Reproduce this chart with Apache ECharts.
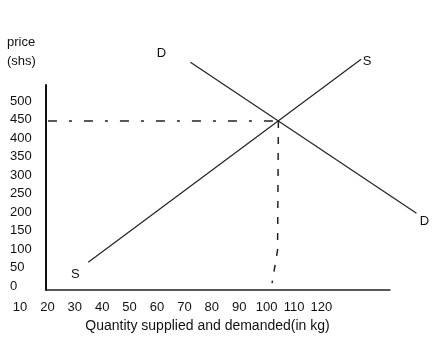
<!DOCTYPE html>
<html>
<head>
<meta charset="utf-8">
<script src="https://cdn.jsdelivr.net/npm/echarts@6/dist/echarts.min.js"></script>
<style>
  html, body { margin: 0; padding: 0; background: #fff; }
  #chart { width: 434px; height: 351px; }
</style>
</head>
<body>
<div id="chart"></div>
<script>
var myChart = echarts.init(document.getElementById('chart'))

// values
var qtyTicks = [10, 20, 30, 40, 50, 60, 70, 80, 90, 100, 110, 120]
var priceTicks = [0, 50, 100, 150, 200, 250, 300, 350, 400, 450, 500]
var supplyQ = [34.9, 134.5]
var supplyP = [64, 612.7]
var demandQ = [72.2, 154.7]
var demandP = [604.6, 196.5]
var priceGuideQ = [20.2, 104.3]
var priceGuideP = [446, 446]
var qtyGuideQ = [104.3, 104, 102]
var qtyGuideP = [446, 97, 8]

var font = 'Liberation Sans, Arial, sans-serif'

function pairs(xs, ys) {
  return xs.map(function(x, i) {
    return [x, ys[i]]
  })
}

// curve data with a letter at each end
function curve(xs, ys, name, offsets) {
  return pairs(xs, ys).map(function(p, i) {
    return {
      value: p,
      label: {
        show: true,
        formatter: name,
        position: 'inside',
        offset: offsets[i],
        color: '#111',
        fontSize: 13,
        fontFamily: font
      }
    }
  })
}

var option = {
  animation: false,
  backgroundColor: '#fff',
  title: {
    text: 'price\n(shs)',
    left: 2,
    top: 28,
    textStyle: {
      color: '#111',
      fontSize: 13,
      fontWeight: 'normal',
      fontFamily: font,
      lineHeight: 19
    }
  },
  grid: [
    // data + tick labels
    { left: 20, right: 2.25, top: 45.5, bottom: 65 },
    // visible axis lines
    { left: 46, right: 44, top: 85, bottom: 61 }
  ],
  xAxis: [
    {
      gridIndex: 0,
      type: 'value',
      min: 10,
      max: 160,
      interval: 10,
      axisLine: { show: false },
      axisTick: { show: false },
      splitLine: { show: false },
      axisLabel: {
        margin: 15,
        color: '#111',
        fontSize: 13,
        fontFamily: font,
        formatter: function(v) {
          return qtyTicks.indexOf(v) >= 0 ? v : ''
        }
      },
      name: 'Quantity supplied and demanded(in kg)',
      nameLocation: 'middle',
      nameGap: 33,
      nameTextStyle: {
        color: '#111',
        fontSize: 14,
        fontFamily: font,
        padding: [0, 36, 0, 0]
      }
    },
    {
      gridIndex: 1,
      type: 'value',
      min: 0,
      max: 1,
      axisLine: { show: true, lineStyle: { color: '#222', width: 1.5 } },
      axisTick: { show: false },
      axisLabel: { show: false },
      splitLine: { show: false }
    }
  ],
  yAxis: [
    {
      gridIndex: 0,
      type: 'value',
      min: 0,
      max: 650,
      interval: 50,
      axisLine: { show: false },
      axisTick: { show: false },
      splitLine: { show: false },
      axisLabel: {
        margin: 10,
        align: 'left',
        color: '#111',
        fontSize: 13,
        fontFamily: font,
        formatter: function(v) {
          return priceTicks.indexOf(v) >= 0 ? v : ''
        }
      }
    },
    {
      gridIndex: 1,
      type: 'value',
      min: 0,
      max: 1,
      axisLine: { show: true, lineStyle: { color: '#111', width: 2 } },
      axisTick: { show: false },
      axisLabel: { show: false },
      splitLine: { show: false }
    }
  ],
  series: [
    {
      name: 'S',
      type: 'line',
      xAxisIndex: 0,
      yAxisIndex: 0,
      clip: false,
      showSymbol: true,
      symbol: 'circle',
      symbolSize: 0,
      lineStyle: { color: '#222', width: 1.2 },
      data: curve(supplyQ, supplyP, 'S', [[-13, 12], [6, 2]])
    },
    {
      name: 'D',
      type: 'line',
      xAxisIndex: 0,
      yAxisIndex: 0,
      clip: false,
      showSymbol: true,
      symbol: 'circle',
      symbolSize: 0,
      lineStyle: { color: '#222', width: 1.2 },
      data: curve(demandQ, demandP, 'D', [[-29, -9], [8, 8]])
    },
    {
      name: 'price guide',
      type: 'line',
      xAxisIndex: 0,
      yAxisIndex: 0,
      showSymbol: false,
      symbol: 'none',
      lineStyle: { color: '#222', width: 1.5, type: [9, 12, 3, 12] },
      data: pairs(priceGuideQ, priceGuideP)
    },
    {
      name: 'quantity guide',
      type: 'line',
      xAxisIndex: 0,
      yAxisIndex: 0,
      showSymbol: false,
      symbol: 'none',
      lineStyle: { color: '#222', width: 1.5, type: [7, 9] },
      data: pairs(qtyGuideQ, qtyGuideP)
    }
  ]
}

myChart.setOption(option)
window.onresize = function() {
  myChart.resize()
}
</script>
</body>
</html>
